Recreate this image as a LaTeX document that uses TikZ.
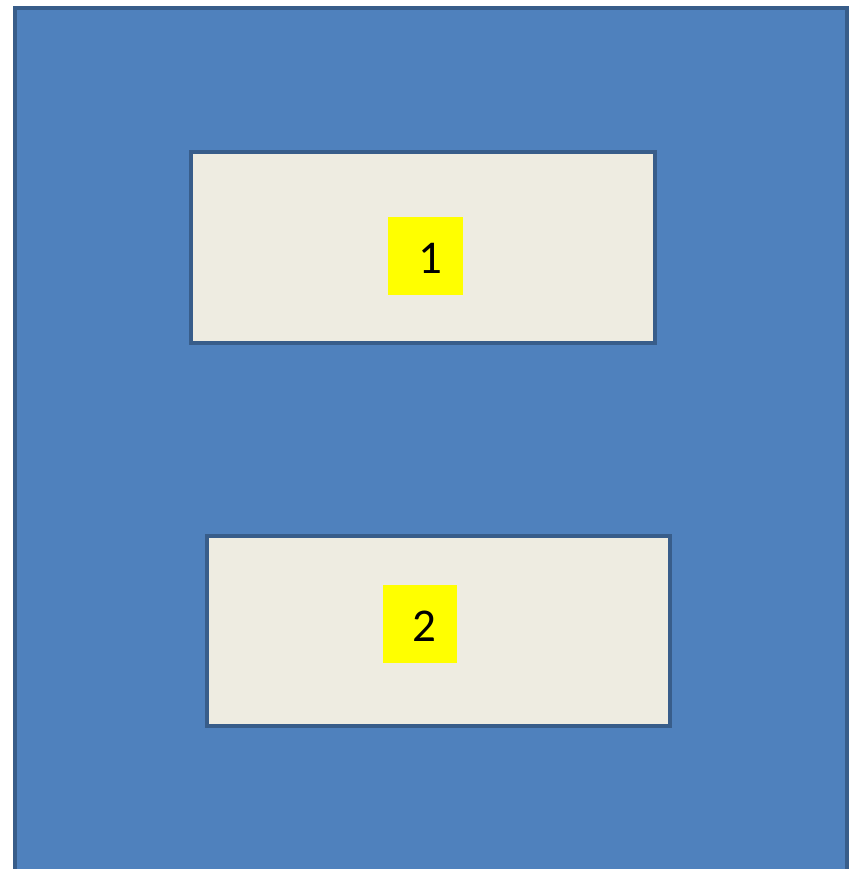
\documentclass[tikz,border=0pt]{standalone}
\usepackage{fontspec}
\setmainfont{Carlito}
\definecolor{bgblue}{HTML}{4F81BD}
\definecolor{edgeblue}{HTML}{385D8A}
\definecolor{paper}{HTML}{EEECE1}
\definecolor{tagyellow}{HTML}{FFFF00}
\tikzset{
  panel/.style={draw=edgeblue, line width=4pt, fill=bgblue},
  slot/.style={draw=edgeblue, line width=4pt, fill=paper},
  tag/.style={fill=tagyellow, inner sep=0pt},
  tagtext/.style={font=\fontsize{47}{50}\selectfont, inner sep=0pt, text=black}
}
\begin{document}
\begin{tikzpicture}[x=1pt,y=-1pt]
\useasboundingbox (0,0) rectangle (854,869);
\begin{scope}
\clip (0,0) rectangle (854,869);
\draw[panel] (15,8) rectangle (847,880);
\end{scope}
\draw[slot] (191,152) rectangle (655,343);
\draw[slot] (207,536) rectangle (670,726);
\fill[tagyellow] (388,217) rectangle (463,295);
\fill[tagyellow] (383,585) rectangle (457,663);
\node[tagtext] (one) at (430,258) {1};
\node[tagtext] (two) at (424,626) {2};
\end{tikzpicture}
\end{document}
